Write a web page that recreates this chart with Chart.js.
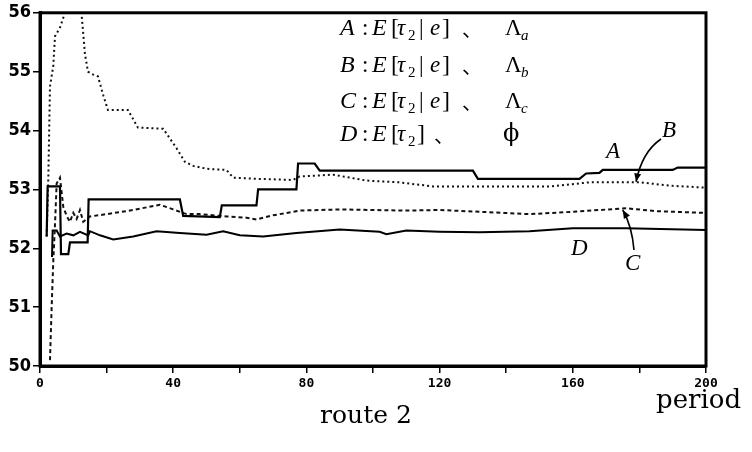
<!DOCTYPE html>
<html>
<head>
<meta charset="utf-8">
<script src="https://cdn.jsdelivr.net/npm/chart.js@4.4.1/dist/chart.umd.min.js"></script>
<style>
  html, body { margin: 0; padding: 0; background: #fff; }
  #wrap { width: 752px; height: 452px; }
</style>
</head>
<body>
<div id="wrap"><canvas id="c" width="752" height="452"></canvas></div>
<script>
// series (period, value)
const aPeriod = [2, 2.3, 6, 6.3, 8.5, 9, 14.3, 14.6, 42, 43, 54, 54.6, 65, 65.5, 77, 77.5, 82.5, 84, 130, 131.5, 162, 164, 168, 169, 190, 191.5, 200];
const aValue  = [52.2, 53.05, 53.05, 51.9, 51.9, 52.1, 52.1, 52.83, 52.83, 52.55, 52.53, 52.73, 52.73, 53.0, 53.0, 53.44, 53.44, 53.32, 53.32, 53.18, 53.18, 53.27, 53.28, 53.33, 53.33, 53.37, 53.37];

const bPeriod = [2, 2.5, 3, 4, 4.5, 6, 7.5, 9, 12, 12.6, 13.5, 14.4, 16, 17.4, 19, 20.4, 26.4, 29.4, 37, 41, 43.5, 46, 50, 56, 58, 65, 76, 78, 88, 98, 108, 118, 153, 165, 180, 190, 200];
const bValue  = [52.2, 53.2, 54.75, 55.1, 55.6, 55.75, 56.0, 56.2, 56.2, 55.9, 55.3, 55.0, 54.95, 54.92, 54.6, 54.35, 54.35, 54.05, 54.03, 53.7, 53.47, 53.4, 53.35, 53.33, 53.2, 53.18, 53.16, 53.22, 53.25, 53.15, 53.12, 53.05, 53.05, 53.12, 53.12, 53.06, 53.03];

const cPeriod = [3, 3.5, 4, 4.5, 5, 6, 7, 8, 9, 10, 11, 12, 13, 15, 20, 28, 36, 40, 44, 48, 56, 62, 65, 70, 78, 90, 100, 110, 120, 132, 147, 160, 176, 185, 200];
const cValue  = [50.1, 51.0, 51.8, 52.4, 53.1, 53.2, 52.7, 52.55, 52.45, 52.6, 52.5, 52.65, 52.45, 52.54, 52.58, 52.65, 52.74, 52.66, 52.58, 52.58, 52.54, 52.52, 52.49, 52.56, 52.64, 52.66, 52.65, 52.64, 52.65, 52.62, 52.58, 52.62, 52.68, 52.63, 52.6];

const dPeriod = [3.6, 3.8, 5, 6, 8, 10, 12, 14.5, 15, 18, 22, 28, 35, 42, 50, 55, 60, 67, 77, 90, 102, 104, 110, 120, 132, 147, 160, 176, 200];
const dValue  = [51.85, 52.3, 52.3, 52.2, 52.25, 52.22, 52.28, 52.22, 52.29, 52.22, 52.15, 52.2, 52.29, 52.26, 52.23, 52.29, 52.22, 52.2, 52.26, 52.32, 52.28, 52.24, 52.3, 52.28, 52.27, 52.29, 52.34, 52.34, 52.31];

const xTicks = [0, 40, 80, 120, 160, 200];
const yTicks = [50, 51, 52, 53, 54, 55, 56];

function pts(xs, ys) {
    return xs.map((x, i) => ({ x: x, y: ys[i] }));
}

const serif = '"Liberation Serif", "DejaVu Serif", serif';
const wideSerif = '"DejaVu Serif", serif';
const cjk = '"Noto Sans CJK JP", "Noto Sans CJK SC", sans-serif';

function txt(ctx, s, x, y, font) {
    ctx.font = font;
    ctx.fillText(s, x, y);
}

function arrow(ctx, x0, y0, cx, cy, x1, y1) {
    ctx.beginPath();
    ctx.moveTo(x0, y0);
    ctx.quadraticCurveTo(cx, cy, x1, y1);
    ctx.stroke();
    const ang = Math.atan2(y1 - cy, x1 - cx);
    const len = 9;
    ctx.beginPath();
    ctx.moveTo(x1, y1);
    ctx.lineTo(x1 - len * Math.cos(ang - 0.4), y1 - len * Math.sin(ang - 0.4));
    ctx.lineTo(x1 - len * Math.cos(ang + 0.4), y1 - len * Math.sin(ang + 0.4));
    ctx.closePath();
    ctx.fill();
}

const decor = {
    id: 'decor',
    afterDatasetsDraw(chart) {
        const { ctx, chartArea: { left, right, top, bottom }, scales } = chart;
        ctx.save();
        // frame
        ctx.strokeStyle = '#000';
        ctx.lineWidth = 3;
        ctx.strokeRect(left, top, right - left, bottom - top);

        ctx.fillStyle = '#000';
        ctx.textBaseline = 'alphabetic';
        ctx.textAlign = 'left';

        // legend block
        const rows = [
            { lab: 'A', sub: 'a', y: 35 },
            { lab: 'B', sub: 'b', y: 72 },
            { lab: 'C', sub: 'c', y: 108 }
        ];
        rows.forEach(r => {
            txt(ctx, r.lab, 340, r.y, 'italic 24px ' + serif);
            txt(ctx, ':', 362, r.y, '23px ' + serif);
            txt(ctx, 'E', 372, r.y, 'italic 24px ' + serif);
            txt(ctx, '[', 391, r.y, '24px ' + serif);
            txt(ctx, 'τ', 397, r.y, 'italic 23px ' + serif);
            txt(ctx, '2', 408, r.y + 5, '15px ' + serif);
            txt(ctx, '|', 419, r.y, '23px ' + serif);
            txt(ctx, 'e', 430, r.y, 'italic 23px ' + serif);
            txt(ctx, ']', 442, r.y, '24px ' + serif);
            txt(ctx, '、', 462, r.y + 2, '20px ' + cjk);
            txt(ctx, 'Λ', 505, r.y, '23px ' + serif);
            txt(ctx, r.sub, 521, r.y + 5, 'italic 15px ' + serif);
        });
        const dy = 141;
        txt(ctx, 'D', 340, dy, 'italic 24px ' + serif);
        txt(ctx, ':', 362, dy, '23px ' + serif);
        txt(ctx, 'E', 372, dy, 'italic 24px ' + serif);
        txt(ctx, '[', 391, dy, '24px ' + serif);
        txt(ctx, 'τ', 397, dy, 'italic 23px ' + serif);
        txt(ctx, '2', 408, dy + 5, '15px ' + serif);
        txt(ctx, ']', 417, dy, '24px ' + serif);
        txt(ctx, '、', 434, dy + 2, '20px ' + cjk);
        txt(ctx, 'ϕ', 503, dy, '24px "DejaVu Serif", serif');

        // curve labels
        txt(ctx, 'A', 606, 158, 'italic 23px ' + serif);
        txt(ctx, 'B', 662, 137, 'italic 23px ' + serif);
        txt(ctx, 'D', 571, 255, 'italic 23px ' + serif);
        txt(ctx, 'C', 625, 270, 'italic 23px ' + serif);

        // arrows to B and C
        ctx.lineWidth = 1.6;
        const xs = scales.x, ys = scales.y;
        const bx = xs.getPixelForValue(179), by = ys.getPixelForValue(53.13);
        arrow(ctx, 661, 139, 642, 152, bx, by);
        const cx = xs.getPixelForValue(175), cy = ys.getPixelForValue(52.65);
        arrow(ctx, 634, 250, 632, 226, cx, cy);

        // axis captions
        ctx.textAlign = 'center';
        txt(ctx, 'route 2', 366, 423, '25px ' + wideSerif);
        ctx.textAlign = 'left';
        txt(ctx, 'period', 656, 408, '26px ' + wideSerif);
        ctx.restore();
    }
};

const config = {
    type: 'scatter',
    data: {
        datasets: [
            { label: 'A', data: pts(aPeriod, aValue), borderColor: '#000', borderWidth: 2.2 },
            { label: 'B', data: pts(bPeriod, bValue), borderColor: '#111', borderWidth: 2, borderDash: [2, 3] },
            { label: 'C', data: pts(cPeriod, cValue), borderColor: '#111', borderWidth: 2, borderDash: [4, 3] },
            { label: 'D', data: pts(dPeriod, dValue), borderColor: '#000', borderWidth: 2 }
        ].map(d => Object.assign(d, { showLine: true, pointRadius: 0, tension: 0, fill: false }))
    },
    options: {
        responsive: false,
        animation: false,
        layout: { padding: { top: 10, right: 46, left: 0, bottom: 0 } },
        plugins: { legend: { display: false }, tooltip: { enabled: false } },
        scales: {
            x: {
                type: 'linear', min: 0, max: 200,
                afterFit: s => { s.height = 86; },
                afterBuildTicks: s => { s.ticks = [0, 20, 40, 60, 80, 100, 120, 140, 160, 180, 200].map(v => ({ value: v })); },
                ticks: {
                    autoSkip: false, maxRotation: 0, padding: 3, color: '#000',
                    font: { family: '"DejaVu Sans Mono", monospace', size: 13, weight: 'bold' },
                    callback: v => xTicks.includes(v) ? String(v) : ''
                },
                grid: { drawOnChartArea: false, drawTicks: true, tickLength: 7, color: '#000', lineWidth: 1.5 },
                border: { display: true, color: '#000', width: 3 }
            },
            y: {
                min: 50, max: 56,
                afterFit: s => { s.width = 40; },
                afterBuildTicks: s => { s.ticks = yTicks.map(v => ({ value: v })); },
                ticks: {
                    padding: 2, color: '#000',
                    font: { family: '"Liberation Sans Narrow", "DejaVu Sans Condensed", "Liberation Sans", sans-serif', size: 18, weight: 'bold' }
                },
                grid: { drawOnChartArea: false, drawTicks: true, tickLength: 7, color: '#000', lineWidth: 1.5 },
                border: { display: true, color: '#000', width: 3 }
            }
        }
    },
    plugins: [decor]
};

new Chart(document.getElementById('c').getContext('2d'), config);
</script>
</body>
</html>
